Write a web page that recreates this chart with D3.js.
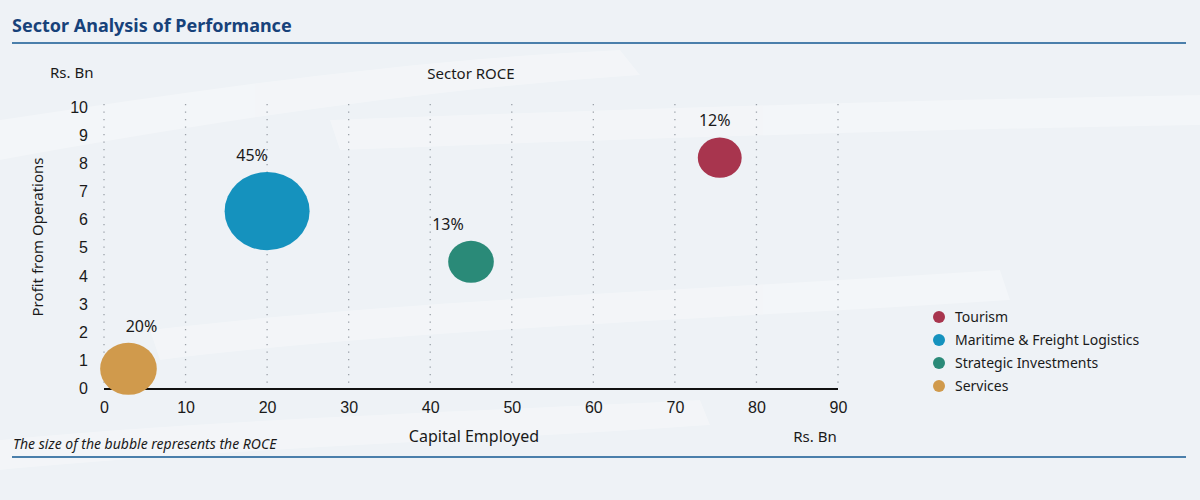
<!DOCTYPE html>
<html lang="en">
<head>
<meta charset="UTF-8">
<title>Sector Analysis of Performance</title>
<script src="https://d3js.org/d3.v7.min.js"></script>
<style>
  body { margin: 0; background: #eef2f6; }
  svg { font-family: "Noto Sans", "Open Sans", sans-serif; }
</style>
</head>
<body>
<svg width="1200" height="500"></svg>
<script>
// data
const sectors = ["Tourism", "Maritime & Freight Logistics", "Strategic Investments", "Services"];
const capital = [75.5, 20, 45, 3];       // Capital Employed, Rs. Bn
const profit = [8.2, 6.3, 4.5, 0.7];     // Profit from Operations, Rs. Bn
const roce = [12, 45, 13, 20];           // ROCE %
const xTicks = [0, 10, 20, 30, 40, 50, 60, 70, 80, 90];
const yTicks = [0, 1, 2, 3, 4, 5, 6, 7, 8, 9, 10];

const colors = ["#a8354e", "#1592be", "#2a8a78", "#d09a4c"];
const labelDx = [-5, -15, -23, 13];

const svg = d3.select("svg");

// faint background strokes
const bg = svg.append("g").attr("fill", "#ffffff").attr("opacity", 0.3);
bg.append("path").attr("d", "M0,120 C200,90 400,60 620,50 L640,75 C420,90 220,120 0,160 Z");
bg.append("path").attr("d", "M150,330 C400,300 700,290 1000,270 L1010,300 C700,320 400,330 160,360 Z");
bg.append("path").attr("d", "M330,120 C600,110 900,100 1200,95 L1200,125 C900,130 600,140 340,150 Z");
bg.append("path").attr("d", "M0,440 C200,420 500,410 700,400 L710,425 C500,440 200,450 0,470 Z");

// title
svg.append("text").attr("x", 12).attr("y", 32)
  .attr("font-size", 18).attr("font-weight", "bold").attr("fill", "#17427a")
  .text("Sector Analysis of Performance");
svg.append("line").attr("x1", 12).attr("x2", 1186).attr("y1", 43).attr("y2", 43)
  .attr("stroke", "#4a7fab").attr("stroke-width", 2);
svg.append("line").attr("x1", 12).attr("x2", 1186).attr("y1", 457).attr("y2", 457)
  .attr("stroke", "#4a7fab").attr("stroke-width", 2);

const x = d3.scaleLinear().domain([0, 90]).range([104, 838]);
const y = d3.scaleLinear().domain([0, 10]).range([388.5, 107]);
const r = d3.scaleSqrt().domain([0, 45]).range([0, 42.5]);

// dotted grid
svg.append("g").selectAll("line").data(xTicks).enter().append("line")
  .attr("x1", d => x(d)).attr("x2", d => x(d))
  .attr("y1", y(10) - 3).attr("y2", y(0))
  .attr("stroke", "#9aa0a8").attr("stroke-width", 1.3)
  .attr("stroke-dasharray", "1.3,6.2");

// x axis
const xAxis = svg.append("g").attr("transform", "translate(0," + 389 + ")")
  .call(d3.axisBottom(x).tickValues(xTicks).tickSize(0).tickPadding(13).tickFormat(d3.format("d")));
xAxis.select(".domain").remove();
xAxis.selectAll("text").attr("font-size", 16).attr("fill", "#1a1a1a").attr("font-family", null);
svg.append("line").attr("x1", x(0)).attr("x2", x(90)).attr("y1", 389).attr("y2", 389)
  .attr("stroke", "#111").attr("stroke-width", 2);

// y axis
const yAxis = svg.append("g").attr("transform", "translate(" + 88 + ",0)")
  .call(d3.axisLeft(y).tickValues(yTicks).tickSize(0).tickPadding(0).tickFormat(d3.format("d")));
yAxis.select(".domain").remove();
yAxis.selectAll("text").attr("font-size", 16).attr("fill", "#1a1a1a").attr("font-family", null);

// axis texts
svg.append("text").attr("x", 50).attr("y", 78).attr("font-size", 15).attr("fill", "#1a1a1a").text("Rs. Bn");
svg.append("text").attr("x", 471).attr("y", 79).attr("text-anchor", "middle")
  .attr("font-size", 15).attr("fill", "#1a1a1a").text("Sector ROCE");
svg.append("text").attr("transform", "translate(43,237) rotate(-90)").attr("text-anchor", "middle")
  .attr("font-size", 15).attr("fill", "#1a1a1a").text("Profit from Operations");
svg.append("text").attr("x", 474).attr("y", 442).attr("text-anchor", "middle")
  .attr("font-size", 16).attr("fill", "#1a1a1a").text("Capital Employed");
svg.append("text").attr("x", 815).attr("y", 442).attr("text-anchor", "middle")
  .attr("font-size", 15).attr("fill", "#1a1a1a").text("Rs. Bn");
svg.append("text").attr("x", 13).attr("y", 449).attr("font-size", 14).attr("font-style", "italic")
  .attr("fill", "#1a1a1a").text("The size of the bubble represents the ROCE");

// bubbles
const idx = d3.range(sectors.length);
svg.append("g").selectAll("ellipse").data(idx).enter().append("ellipse")
  .attr("cx", i => x(capital[i])).attr("cy", i => y(profit[i]))
  .attr("rx", i => r(roce[i])).attr("ry", i => r(roce[i]) * 0.92)
  .attr("fill", i => colors[i]);

svg.append("g").selectAll("text").data(idx).enter().append("text")
  .attr("x", i => x(capital[i]) + labelDx[i])
  .attr("y", i => y(profit[i]) - r(roce[i]) * 0.92 - 11)
  .attr("text-anchor", "middle").attr("font-size", 16).attr("fill", "#1a1a1a")
  .text(i => roce[i] + "%");

// legend
const legend = svg.append("g").selectAll("g").data(idx).enter().append("g")
  .attr("transform", i => "translate(939," + (317 + i * 23) + ")");
legend.append("circle").attr("r", 6).attr("fill", i => colors[i]);
legend.append("text").attr("x", 16).attr("y", 5).attr("font-size", 14).attr("fill", "#1a1a1a")
  .text(i => sectors[i]);
</script>
</body>
</html>
